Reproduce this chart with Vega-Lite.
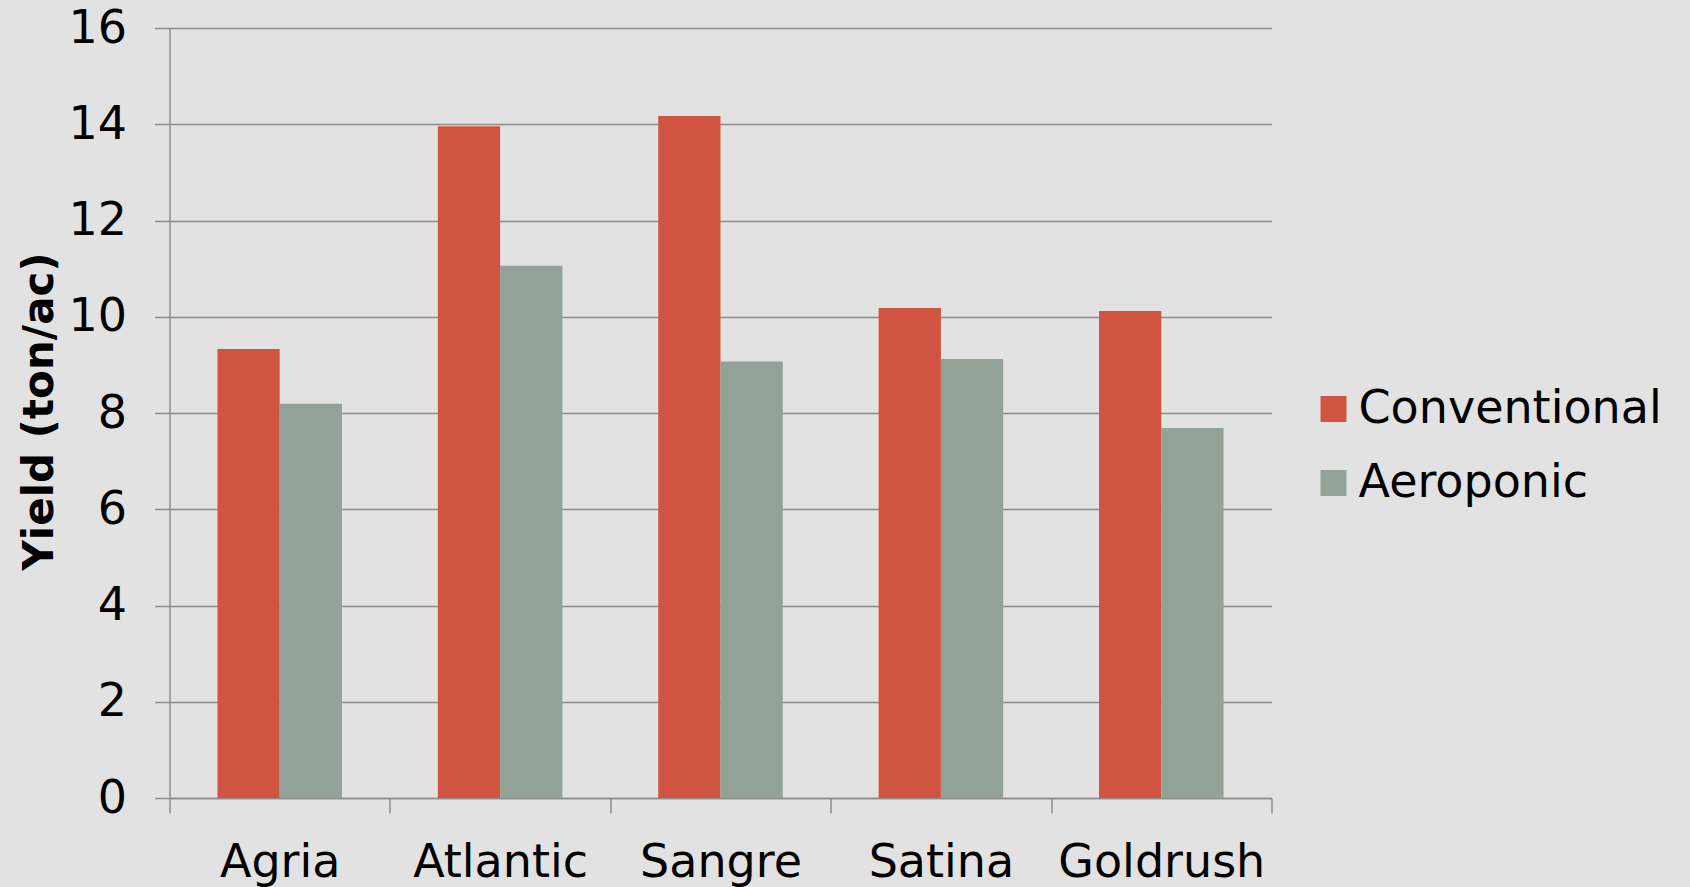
{
  "$schema": "https://vega.github.io/schema/vega-lite/v6.json",
  "autosize": "none",
  "width": 1102,
  "height": 770,
  "padding": {"left": 169.5, "top": 28, "right": 418.5, "bottom": 89},
  "background": "#e2e2e2",
  "config": {
    "view": {"stroke": null},
    "font": "DejaVu Sans"
  },
  "data": {
    "values": [
      {"variety": "Agria", "system": "Conventional", "yield": 9.33},
      {"variety": "Agria", "system": "Aeroponic", "yield": 8.19},
      {"variety": "Atlantic", "system": "Conventional", "yield": 13.96},
      {"variety": "Atlantic", "system": "Aeroponic", "yield": 11.06},
      {"variety": "Sangre", "system": "Conventional", "yield": 14.17},
      {"variety": "Sangre", "system": "Aeroponic", "yield": 9.07},
      {"variety": "Satina", "system": "Conventional", "yield": 10.18},
      {"variety": "Satina", "system": "Aeroponic", "yield": 9.12},
      {"variety": "Goldrush", "system": "Conventional", "yield": 10.12},
      {"variety": "Goldrush", "system": "Aeroponic", "yield": 7.69}
    ]
  },
  "mark": {"type": "bar"},
  "encoding": {
    "x": {
      "field": "variety",
      "type": "nominal",
      "sort": ["Agria", "Atlantic", "Sangre", "Satina", "Goldrush"],
      "scale": {"paddingInner": 0, "paddingOuter": 0},
      "axis": {
        "title": null,
        "labelAngle": 0,
        "labelFontSize": 46,
        "labelColor": "#000000",
        "labelPadding": 27,
        "labelLimit": 0,
        "tickBand": "extent",
        "tickSize": 15,
        "tickColor": "#8c8c8c",
        "tickWidth": 1.5,
        "domainColor": "#8c8c8c",
        "domainWidth": 1.5,
        "grid": false
      }
    },
    "xOffset": {
      "field": "system",
      "type": "nominal",
      "sort": ["Conventional", "Aeroponic"],
      "scale": {"paddingInner": 0, "paddingOuter": 0.77}
    },
    "y": {
      "field": "yield",
      "type": "quantitative",
      "scale": {"domain": [0, 16], "nice": false},
      "axis": {
        "title": "Yield (ton/ac)",
        "titleFontSize": 42,
        "titleFontWeight": "bold",
        "titleColor": "#000000",
        "titleAngle": -90,
        "titleX": -130,
        "titleY": 383,
        "titleAlign": "center",
        "titleBaseline": "middle",
        "values": [0, 2, 4, 6, 8, 10, 12, 14, 16],
        "labelFontSize": 46,
        "labelColor": "#000000",
        "labelPadding": 28,
        "labelLimit": 0,
        "tickSize": 15,
        "tickColor": "#8c8c8c",
        "tickWidth": 1.5,
        "domainColor": "#8c8c8c",
        "domainWidth": 1.5,
        "grid": true,
        "gridColor": "#8c8c8c",
        "gridWidth": 1.5
      }
    },
    "color": {
      "field": "system",
      "type": "nominal",
      "sort": ["Conventional", "Aeroponic"],
      "scale": {"domain": ["Conventional", "Aeroponic"], "range": ["#D0543F", "#93A299"]},
      "legend": {
        "title": null,
        "orient": "none",
        "legendX": 1141,
        "legendY": 358,
        "padding": 0,
        "symbolType": "square",
        "symbolSize": 676,
        "symbolStrokeWidth": 0,
        "labelFontSize": 46,
        "labelColor": "#000000",
        "labelOffset": 2,
        "labelLimit": 0,
        "rowPadding": 28
      }
    }
  }
}
